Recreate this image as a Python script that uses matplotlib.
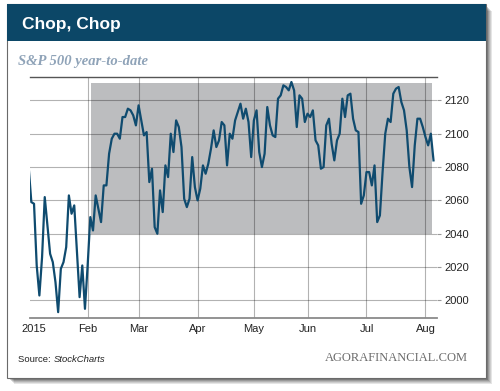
import numpy as np
import pandas as pd
import matplotlib
matplotlib.use("Agg")
import matplotlib.pyplot as plt
from matplotlib.patches import Rectangle

# S&P 500 daily closes, 30 Dec 2014 - 6 Aug 2015
closes = [
    2080, 2059,
    # Jan
    2058, 2021, 2003, 2026, 2062, 2045, 2028, 2023, 2011, 1993,
    2019, 2023, 2032, 2063, 2052, 2057, 2030, 2002, 2021, 1995,
    # Feb
    2021, 2050, 2042, 2063, 2055, 2047, 2069, 2069, 2088, 2097,
    2100, 2100, 2097, 2110, 2110, 2115, 2114, 2111, 2105,
    # Mar
    2117, 2108, 2099, 2101, 2071, 2079, 2044, 2040, 2066, 2053,
    2081, 2074, 2100, 2089, 2108, 2104, 2092, 2061, 2056, 2061,
    2086, 2068,
    # Apr
    2060, 2067, 2081, 2076, 2082, 2091, 2102, 2092, 2096, 2107,
    2105, 2081, 2100, 2097, 2108, 2113, 2118, 2109, 2115, 2107, 2086,
    # May
    2108, 2114, 2089, 2080, 2088, 2116, 2105, 2099, 2098, 2121,
    2123, 2129, 2128, 2126, 2131, 2126, 2104, 2123, 2121, 2107,
    # Jun
    2112, 2110, 2114, 2096, 2093, 2079, 2080, 2105, 2109, 2094,
    2084, 2096, 2100, 2121, 2110, 2123, 2124, 2109, 2102, 2101,
    2058, 2063,
    # Jul
    2077, 2077, 2069, 2081, 2047, 2051, 2077, 2100, 2109, 2107,
    2124, 2127, 2128, 2119, 2114, 2102, 2080, 2068, 2093, 2109,
    2109, 2104,
    # Aug
    2098, 2093, 2100, 2084,
]

holidays = ["2015-01-01", "2015-01-19", "2015-02-16", "2015-04-03",
            "2015-05-25", "2015-07-03"]
month_labels = ["2015", "Feb", "Mar", "Apr", "May", "Jun", "Jul", "Aug"]
y_ticks = [2000, 2020, 2040, 2060, 2080, 2100, 2120]

# grey "chop" band (trading-day index, index points)
shade_x = (21.4, 148.3)
shade_y = (2040, 2130.5)

dates = pd.bdate_range("2014-12-30", "2015-08-06")
dates = dates[~dates.isin(pd.to_datetime(holidays))]
assert len(dates) == len(closes)
idx = np.arange(len(dates)) - 2          # 0 = first session of 2015
yr = dates.year == 2015
first_of_month = pd.Series(idx[yr]).groupby(dates[yr].month).min().values

W, H = 500, 391
fig = plt.figure(figsize=(W / 100, H / 100), dpi=100)
fig.patch.set_facecolor("white")

def px(x0, y0, x1, y1):
    # pixel box (top-left origin) -> figure fraction rectangle args
    return (x0 / W, 1 - y1 / H), (x1 - x0) / W, (y1 - y0) / H

# drop shadow + panel
for i, a in enumerate([0.10, 0.10, 0.12, 0.15, 0.2]):
    d = 6 - i
    xy, w, h = px(7 + d + 1, 4 + d + 1, 486 + d, 378 + d)
    fig.patches.append(Rectangle(xy, w, h, transform=fig.transFigure,
                                 facecolor="black", alpha=a, lw=0, zorder=-5))
xy, w, h = px(7, 4, 486, 378)
fig.patches.append(Rectangle(xy, w, h, transform=fig.transFigure, zorder=-4,
                             facecolor="white", edgecolor="#6a6a6a", lw=0.8))
xy, w, h = px(7, 4, 486, 41)
fig.patches.append(Rectangle(xy, w, h, transform=fig.transFigure,
                             facecolor="#0c4767", lw=0, zorder=-3))

fig.text(22 / W, 1 - 24.5 / H, "Chop, Chop", color="white", fontsize=12.5,
         fontweight="bold", family="Liberation Sans", va="center")
fig.text(18 / W, 1 - 61 / H, "S&P 500 year-to-date", color="#8fa3b8",
         fontsize=10.5, fontweight="bold", style="italic",
         family="Liberation Serif", va="center")

ax = fig.add_axes([30 / W, 1 - 318 / H, 407 / W, 241 / H])
ax.set_zorder(5)
ax.add_patch(Rectangle((shade_x[0], shade_y[0]), shade_x[1] - shade_x[0],
                       shade_y[1] - shade_y[0], facecolor="#bcbdbf",
                       lw=0, zorder=0.2))
ax.plot(idx, closes, color="#0f4b6f", lw=1.6, zorder=3,
        solid_joinstyle="round")

ax.set_xlim(-1.5, 150.3)
ax.set_ylim(1989.5, 2134)
ax.set_xticks(first_of_month)
ax.set_xticklabels(month_labels)
ax.set_yticks(y_ticks)
ax.yaxis.tick_right()
ax.set_axisbelow(True)
ax.grid(True, color="black", alpha=0.3, lw=0.8)
ax.xaxis.get_gridlines()[0].set_visible(False)
ax.tick_params(axis="x", length=0, pad=4, labelsize=8, labelcolor="#222222")
ax.tick_params(axis="y", length=3, width=0.8, color="#999999", pad=2,
               labelsize=8, labelcolor="#222222")
for lab in ax.get_xticklabels() + ax.get_yticklabels():
    lab.set_family("Liberation Sans")
for s in ("left", "right"):
    ax.spines[s].set_visible(False)
ax.spines["top"].set_color("#555555")
ax.spines["top"].set_linewidth(1.0)
ax.spines["bottom"].set_color("#8a8a8a")
ax.spines["bottom"].set_linewidth(1.3)
ax.set_facecolor("none")

t = fig.text(18 / W, 1 - 360 / H, "Source: ", fontsize=6.8,
             family="Liberation Sans", color="#222222", va="center")
fig.canvas.draw()
bb = t.get_window_extent()
fig.text(bb.x1 / W, 1 - 360 / H, "StockCharts", fontsize=6.8, style="italic",
         family="Liberation Sans", color="#222222", va="center")
fig.text(468 / W, 1 - 358 / H, "AGORAFINANCIAL.COM", fontsize=9,
         family="Liberation Serif", color="#6b6b6b", va="center", ha="right")

fig.savefig("out.png", dpi=100)
